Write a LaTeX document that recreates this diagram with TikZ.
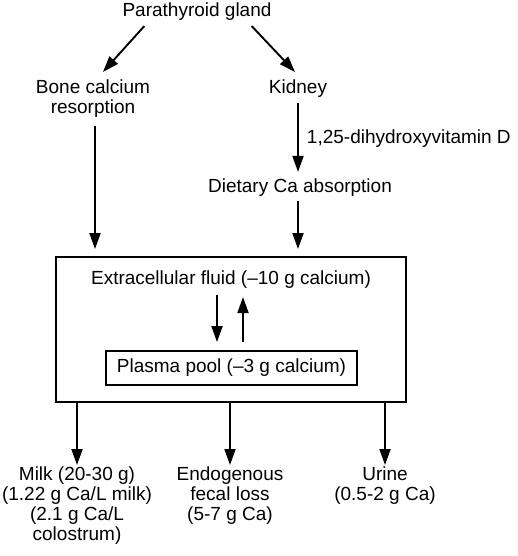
\documentclass[tikz,border=0pt]{standalone}
\usepackage{fontspec}
\setmainfont{Liberation Sans}
\usepackage{tikz}
\usetikzlibrary{arrows.meta,positioning}

\begin{document}
\begin{tikzpicture}[
      x=1pt, y=-1pt,
      node distance=6pt and 8pt,
      lbl/.style={inner sep=0pt, align=center, font=\fontsize{19}{20}\selectfont},
      box/.style={rectangle, draw, line width=1.9pt, inner sep=0pt},
      line/.style={draw, line width=1.9pt, -{Triangle[length=16pt,width=11pt]}}
    ]
    \path[use as bounding box] (0,0) rectangle (518,556);
    % sources
    \node[lbl] (para) at (197,12) {Parathyroid gland};
    \node[lbl] (bone) at (93,99) {Bone calcium\\resorption};
    \node[lbl] (kidney) at (298,89) {Kidney};
    \node[lbl] (diet) at (300,188) {Dietary Ca absorption};
    % pools
    \node[box, minimum width=350pt, minimum height=145pt] (ecfbox) at (231,329.5) {};
    \node[lbl] (ecf) at (231,280) {Extracellular fluid (--10 g calcium)};
    \node[box, lbl, draw, minimum width=251pt, minimum height=34pt] (plasma) at (231.5,368) {Plasma pool (--3 g calcium)};
    % losses
    \node[lbl, anchor=north] (milk) at (77,467) {Milk (20-30 g)\\(1.22 g Ca/L milk)\\(2.1 g Ca/L\\colostrum)};
    \node[lbl, anchor=north] (fecal) at (230,467) {Endogenous\\fecal loss\\(5-7 g Ca)};
    \node[lbl, anchor=north] (urine) at (385,467) {Urine\\(0.5-2 g Ca)};

    \draw[line] ([xshift=22pt,yshift=-5pt]para.south west) -- ([xshift=10pt,yshift=8pt]bone.north);
    \draw[line] ([xshift=-20pt,yshift=-5pt]para.south east) -- ([xshift=-3pt,yshift=8pt]kidney.north);
    \draw[line, shorten <=5pt, shorten >=7pt] (kidney.south) -- (kidney.south |- diet.north)
        node[midway, lbl, right=8pt] (vitd) {1,25-dihydroxyvitamin D};
    \draw[line, shorten <=8pt, shorten >=7pt] ([xshift=2pt]bone.south) -- ([xshift=2pt]bone.south |- ecfbox.north);
    \draw[line, shorten <=4pt, shorten >=7pt] ([xshift=-2pt]diet.south) -- ([xshift=-2pt]diet.south |- ecfbox.north);
    \draw[line, shorten <=6pt, shorten >=8pt] ([xshift=-14pt]ecf.south) -- ([xshift=-14.5pt]plasma.north);
    \draw[line, shorten <=8pt, shorten >=8pt] ([xshift=11.5pt]plasma.north) -- ([xshift=12pt]ecf.south);
    \foreach \n in {milk,fecal,urine} {
        \draw[line, shorten >=2pt] (ecfbox.south -| \n.north) -- (\n.north);
    }
  \end{tikzpicture}
\end{document}
